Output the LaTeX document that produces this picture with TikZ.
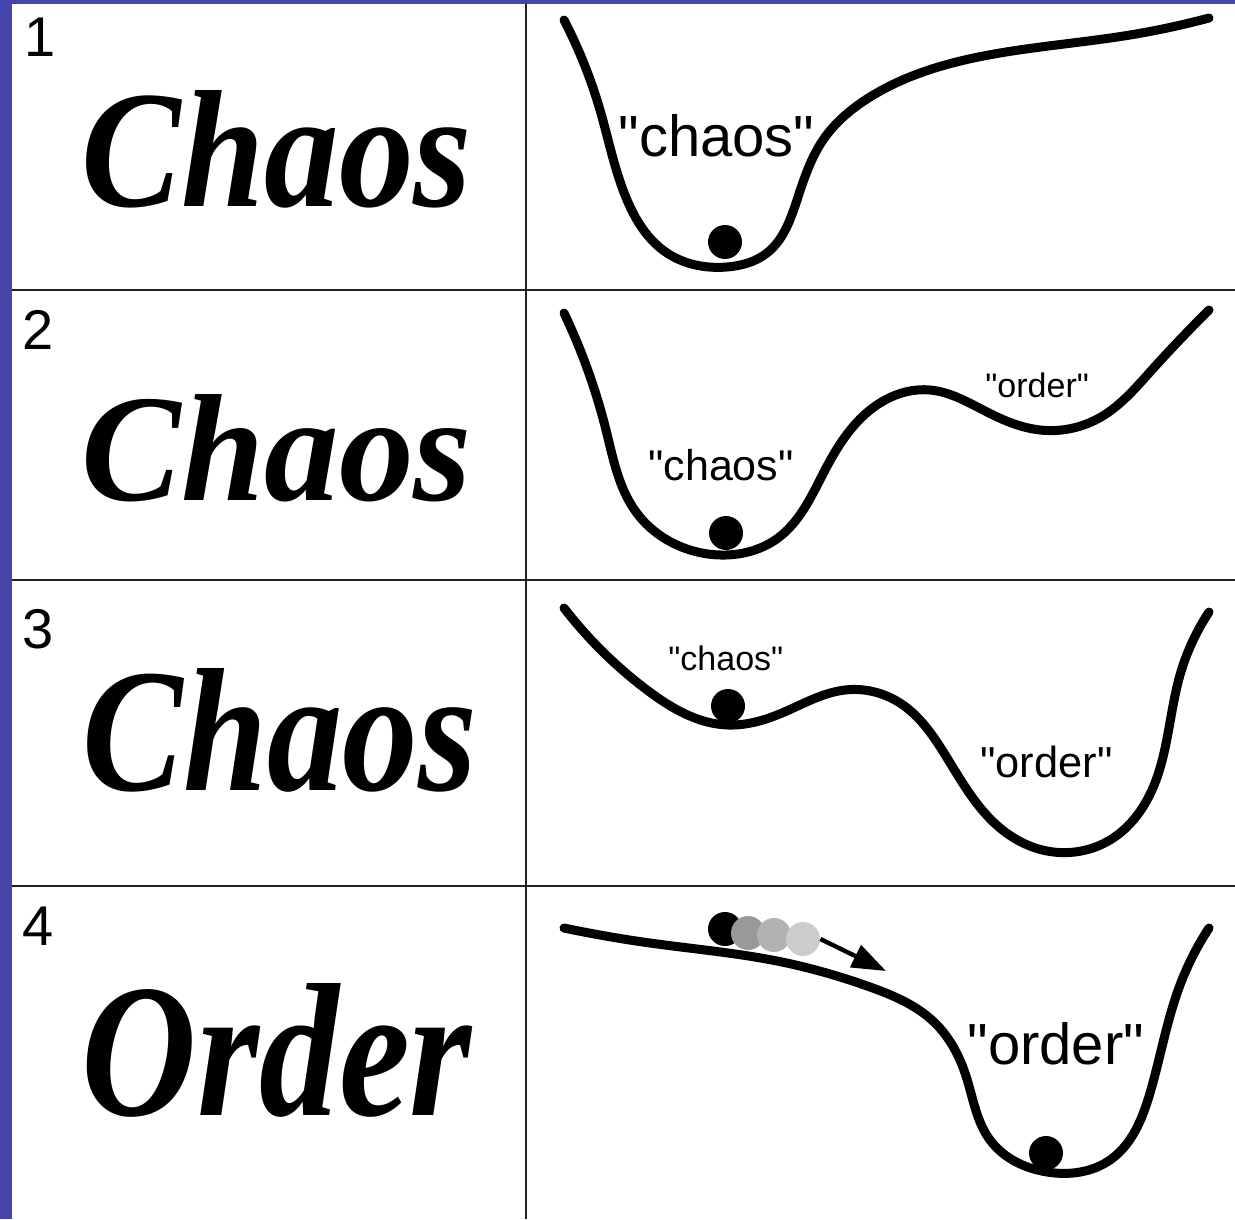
\documentclass[tikz,border=0pt]{standalone}
\usepackage{fontspec}
\usepackage{graphicx}
\setmainfont[Ligatures=TeXOff]{Liberation Sans}
\newfontfamily\decofont{Liberation Serif}
\usetikzlibrary{arrows.meta,hobby}
\definecolor{frameblue}{HTML}{4444AA}
\definecolor{gridgray}{HTML}{222222}
\tikzset{
  land/.style={line width=4.5pt, line cap=round, line join=round, use Hobby shortcut},
  gridline/.style={draw=gridgray, line width=1pt},
  ball/.style={circle, fill=black, inner sep=0pt, minimum size=17pt},
  num/.style={font=\fontsize{28}{30}\selectfont, anchor=base west, inner sep=0pt},
  lab/.style={anchor=base west, inner sep=0pt},
  deco/.style={anchor=base, inner sep=0pt},
}
\begin{document}
\begin{tikzpicture}[x=0.5pt, y=-0.5pt]
\useasboundingbox (0,0) rectangle (1235,1219);
\fill[white] (0,0) rectangle (1235,1219);
\fill[frameblue] (0,0) rectangle (12,1219);
\fill[frameblue] (0,0) rectangle (1235,4);
% grid
\draw[gridline] (526,4) -- (526,1219);
\foreach \yy in {290,580,886} \draw[gridline] (12,\yy) -- (1235,\yy);
% numbers
\node[num] (n1) at (24,57) {1};
\node[num] (n2) at (22,350) {2};
\node[num] (n3) at (22,648) {3};
\node[num] (n4) at (22,945) {4};
% ambigram words
\node[deco] (w1) at (277,207) {\resizebox{195pt}{58pt}{\decofont\bfseries\itshape Chaos}};
\node[deco] (w2) at (277,500) {\resizebox{195pt}{53pt}{\decofont\bfseries\itshape Chaos}};
\node[deco] (w3) at (280,790) {\resizebox{197pt}{61pt}{\decofont\bfseries\itshape Chaos}};
\node[deco] (w4) at (277,1115) {\resizebox{195pt}{66pt}{\decofont\bfseries\itshape Order}};
% panel 1
\draw[land] (564,20) .. (600,110) .. (627,200) .. (667,253) .. (727,267) .. (767,253) .. (797,200) .. (823,140) .. (870,97) .. (1000,53) .. (1130,35) .. (1209,18);
\node[ball] (b1) at (725,242) {};
\node[lab, font=\fontsize{29}{30}\selectfont] (c1) at (618,157) {"chaos"};
% panel 2
\draw[land] (564,313) .. (606,430) .. (636,512) .. (690,550) .. (726,555) .. (778,538) .. (825,470) .. (885,400) .. (930,390) .. (989,413) .. (1040,430) .. (1101,417) .. (1150,372) .. (1209,310);
\node[ball] (b2) at (726,533) {};
\node[lab, font=\fontsize{21.5}{23}\selectfont] (c2) at (648,480) {"chaos"};
\node[lab, font=\fontsize{17}{18}\selectfont] (o2) at (985,397) {"order"};
% panel 3
\draw[land] (564,608) .. (647,690) .. (728,725) .. (782,713) .. (845,690) .. (900,703) .. (944,753) .. (1000,828) .. (1047,851) .. (1110,840) .. (1152,790) .. (1180,675) .. (1209,612);
\node[ball] (b3) at (728,706) {};
\node[lab, font=\fontsize{17}{18}\selectfont] (c3) at (668,670) {"chaos"};
\node[lab, font=\fontsize{21.7}{23}\selectfont] (o3) at (980,777) {"order"};
% panel 4
\draw[land] (564,928) .. (650,943) .. (777,961) .. (870,987) .. (935,1023) .. (966,1076) .. (990,1140) .. (1047,1172) .. (1110,1160) .. (1150,1093) .. (1180,985) .. (1209,928);
\node[ball] (b4) at (1046,1153) {};
\node[lab, font=\fontsize{29}{30}\selectfont] (o4) at (967,1064) {"order"};
\node[ball] (g0) at (725,929) {};
\node[ball, fill=black!40] (g1) at (748,933) {};
\node[ball, fill=black!30] (g2) at (774,935) {};
\node[ball, fill=black!20] (g3) at (803,939) {};
\coordinate (arrend) at (886,971);
\draw[line width=2.2pt, -{Triangle[length=17pt, width=12pt]}] (g3.east) -- (arrend);
\end{tikzpicture}
\end{document}
